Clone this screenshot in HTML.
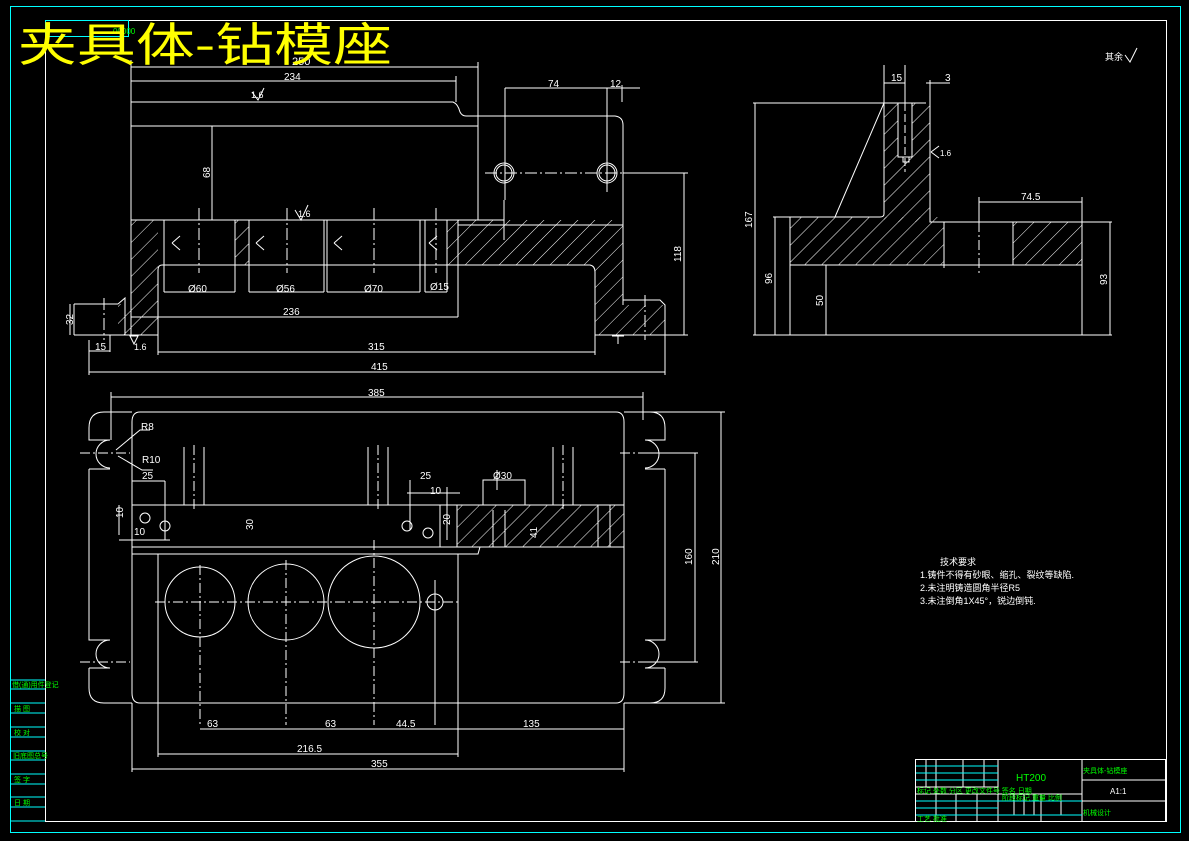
<!DOCTYPE html>
<html><head><meta charset="utf-8"><style>
html,body{margin:0;padding:0;background:#000;}
svg{display:block}
text{font-family:"Liberation Sans","Noto Sans CJK SC",sans-serif;fill:#fff}
</style></head><body>
<svg width="1189" height="841" viewBox="0 0 1189 841" xmlns="http://www.w3.org/2000/svg">
<defs>
<pattern id="h" width="12" height="12" patternUnits="userSpaceOnUse" patternTransform="rotate(45)">
<line x1="0" y1="0" x2="0" y2="12" stroke="#fff" stroke-width="1"/>
</pattern>
</defs>
<rect x="0" y="0" width="1189" height="841" fill="#000"/>
<rect x="10.5" y="6.5" width="1170" height="826" fill="none" stroke="#0ff" stroke-width="1"/>
<rect x="45.5" y="20.5" width="1121" height="801" fill="none" stroke="#fff" stroke-width="1"/>
<rect x="45.5" y="20.5" width="83" height="16" fill="none" stroke="#0ff"/>
<text x="113" y="34" font-size="8" style="fill:#0f0">00000</text>

<g stroke="#fff" stroke-width="1" fill="none">
<line x1="131" y1="67" x2="478" y2="67"/>
<line x1="131" y1="81" x2="456" y2="81"/>
<line x1="131" y1="60" x2="131" y2="335"/>
<line x1="478" y1="62" x2="478" y2="220"/>
<line x1="456" y1="76" x2="456" y2="102"/>
<path d="M131 102 H453 Q458 104 460 112 Q462 116 466 116 H615 Q623 117 623 125 V305"/>
<line x1="131" y1="126" x2="478" y2="126"/>
<line x1="131" y1="220" x2="504" y2="220"/>
<line x1="458" y1="225" x2="623" y2="225"/>
<path d="M158 270 Q158 265 162 265 H590 Q595 266 595 272 V335"/>
<line x1="158" y1="270" x2="158" y2="335"/>
<path d="M74 304 H118 M74 335 H158 M118 304 L125 298 V335 M595 335 H665 V305 L660 300 H623"/>
<line x1="74" y1="304" x2="74" y2="335"/>
<rect x="131" y="220" width="27" height="115" fill="url(#h)" stroke="none"/>
<rect x="118" y="304" width="13" height="31" fill="url(#h)" stroke="none"/>
<rect x="235" y="220" width="14" height="45" fill="url(#h)" stroke="none"/>
<rect x="447" y="220" width="176" height="45" fill="url(#h)" stroke="none"/>
<rect x="595" y="265" width="28" height="70" fill="url(#h)" stroke="none"/>
<rect x="623" y="305" width="42" height="30" fill="url(#h)" stroke="none"/>
<path d="M164 220 V292 M235 220 V292 M249 220 V292 M324 220 V292 M327 220 V292 M420 220 V292 M425 220 V292 M447 220 V292 M458 220 V317"/>
<g stroke-dasharray="12,3,2,3">
<line x1="199" y1="208" x2="199" y2="273"/><line x1="287" y1="208" x2="287" y2="273"/>
<line x1="374" y1="208" x2="374" y2="273"/><line x1="436" y1="208" x2="436" y2="273"/>
<line x1="485" y1="173" x2="680" y2="173"/>
<line x1="104" y1="298" x2="104" y2="340"/><line x1="645" y1="295" x2="645" y2="340"/>
</g>
<circle cx="504" cy="173" r="10"/><circle cx="607" cy="173" r="10"/>
<circle cx="504" cy="173" r="8"/><circle cx="607" cy="173" r="8"/>
<path d="M505 88 V200 M607 88 V192 M622 85 V102 M505 88 H640 M504 200 V240"/>
<path d="M164 292 H235 M249 292 H324 M327 292 H420 M425 292 H447 M131 317 H458 M158 352 H595 M89 372 H665 M89 351 H110 M89 340 V375 M110 335 V352 M665 335 V375 M158 335 V355 M595 335 V355"/>
<path d="M684 173 V335 M623 173 H688 M665 335 H688 M70 304 V335 M212 126 V220"/>
<path d="M252 92 L258 100 L264 88 M295 210 L301 220 L308 205 M130 336 L134 344 L138 336 Z M612 336 H624 M618 336 V344"/>
<path d="M172 243 L180 236 M172 243 L180 250 M256 243 L264 236 M256 243 L264 250 M334 243 L342 236 M334 243 L342 250 M429 243 L437 236 M429 243 L437 250"/>
</g>
<g font-size="10">
<text x="292" y="65" font-size="11">250</text>
<text x="284" y="80">234</text>
<text x="251" y="98" font-size="9">1.6</text>
<text x="298" y="217" font-size="9">1.6</text>
<text x="548" y="87">74</text>
<text x="610" y="87">12</text>
<text x="283" y="315">236</text>
<text x="368" y="350">315</text>
<text x="371" y="370">415</text>
<text x="95" y="350">15</text>
<text x="188" y="292">Ø60</text>
<text x="276" y="292">Ø56</text>
<text x="364" y="292">Ø70</text>
<text x="430" y="290">Ø15</text>
<text x="134" y="350" font-size="9">1.6</text>
<text transform="translate(210 178) rotate(-90)">68</text>
<text transform="translate(681 262) rotate(-90)">118</text>
<text transform="translate(73 325) rotate(-90)">32</text>
</g>

<g stroke="#fff" stroke-width="1" fill="none">
<rect x="884" y="103" width="46" height="119" fill="url(#h)" stroke="none"/>
<rect x="790" y="217" width="154" height="48" fill="url(#h)" stroke="none"/>
<rect x="1013" y="222" width="69" height="43" fill="url(#h)" stroke="none"/>
<rect x="898" y="103" width="14" height="54" fill="#000"/>
<path d="M753 103 H926 M884 103 V214 Q884 217 880 217 H773 M884 103 L835 217 M930 80 V222 H1112 M790 217 V335 M753 335 H1112 M790 265 H1082 M1082 222 V335 M944 222 V268 M1013 222 V265 M755 103 V335 M775 217 V335 M826 265 V335 M1110 222 V335 M979 197 V222 M979 202 H1082 M1082 197 V222 M884 65 V103 M905 65 V103 M884 83 H905 M926 83 H950 M903 157 H909 V162 H903 Z"/>
<line x1="905" y1="103" x2="905" y2="172" stroke-dasharray="8,3"/>
<line x1="979" y1="222" x2="979" y2="273" stroke-dasharray="10,3,2,3"/>
<path d="M931 152 L939 146 M931 152 L939 158"/>
</g>
<g font-size="10">
<text x="891" y="81">15</text><text x="945" y="81">3</text>
<text x="1021" y="200">74.5</text>
<text transform="translate(752 228) rotate(-90)">167</text>
<text transform="translate(772 284) rotate(-90)">96</text>
<text transform="translate(823 306) rotate(-90)">50</text>
<text transform="translate(1107 285) rotate(-90)">93</text>
<text x="940" y="156" font-size="8">1.6</text>
<text x="1105" y="60" font-size="9">其余</text>
</g>
<path d="M1125 55 L1130 62 L1137 48" stroke="#fff" fill="none"/>

<g stroke="#fff" stroke-width="1" fill="none">
<path d="M111 397 H643 M111 392 V440 M643 392 V420"/>
<path d="M140 412 H616 Q624 412 624 422 V693 Q624 703 616 703 H140 Q132 703 132 693 V422 Q132 412 140 412"/>
<path d="M132 412 H104 Q89 412 89 428 V440 H110 M89 469 H110 M89 469 V640 H110 M89 668 H110 V668 M89 668 V688 Q89 703 104 703 H132"/>
<path d="M110 440 A14 14 0 0 0 110 468 M110 640 A14 14 0 0 0 110 668"/>
<path d="M624 412 H650 Q665 412 665 428 V440 H645 M665 469 H645 M665 469 V640 H645 M665 668 H645 M665 668 V688 Q665 703 650 703 H624"/>
<path d="M645 440 A14 14 0 0 1 645 468 M645 640 A14 14 0 0 1 645 668"/>
<path d="M132 505 H624 M132 547 H624 M132 554 H478 L480 547 M158 554 V703 M458 554 V703 M721 412 V703 M695 453 V662 M624 412 H725 M624 703 H725 M645 453 H698 M645 662 H698"/>
<rect x="457" y="505" width="167" height="42" fill="url(#h)" stroke="none"/>
<rect x="483" y="480" width="42" height="25" fill="#000"/>
<path d="M483 480 H525 V505 M483 480 V505 M493 510 V547 M505 510 V547 M598 505 V547 M610 505 V547 M457 505 V547"/>
<path d="M184 447 V505 M204 447 V505 M368 447 V505 M388 447 V505 M553 447 V505 M573 447 V505"/>
<g stroke-dasharray="10,3,2,3">
<line x1="194" y1="445" x2="194" y2="510"/><line x1="378" y1="445" x2="378" y2="510"/><line x1="563" y1="445" x2="563" y2="510"/>
<line x1="155" y1="602" x2="460" y2="602"/>
<line x1="200" y1="565" x2="200" y2="725"/><line x1="286" y1="560" x2="286" y2="725"/><line x1="374" y1="540" x2="374" y2="725"/>
<line x1="80" y1="453" x2="130" y2="453"/><line x1="80" y1="662" x2="130" y2="662"/>
<line x1="620" y1="453" x2="670" y2="453"/><line x1="620" y1="662" x2="670" y2="662"/>
</g>
<circle cx="200" cy="602" r="35"/><circle cx="286" cy="602" r="38"/><circle cx="374" cy="602" r="46"/><circle cx="435" cy="602" r="8"/>
<circle cx="145" cy="518" r="5"/><circle cx="165" cy="526" r="5"/><circle cx="407" cy="526" r="5"/><circle cx="428" cy="533" r="5"/>
<path d="M435 580 V725 M200 729 H624 M158 754 H458 M132 769 H624 M132 703 V772 M624 703 V772 M158 703 V757 M458 703 V757 M624 703 V732"/>
<path d="M132 481 H165 M165 481 V540 M119 505 V535 M119 540 H170 M440 505 V547 M410 480 V530 M447 487 V540 M407 493 H460 M497 470 V490 M483 480 H525"/>
<path d="M116 450 L140 430 H150 M118 456 L142 470 H153"/>
</g>
<g font-size="10">
<text x="368" y="396">385</text>
<text x="141" y="430">R8</text>
<text x="142" y="463">R10</text>
<text x="142" y="479">25</text>
<text x="420" y="479">25</text>
<text x="430" y="494">10</text>
<text x="493" y="479">Ø30</text>
<text x="134" y="535">10</text>
<text x="207" y="727">63</text>
<text x="325" y="727">63</text>
<text x="396" y="727">44.5</text>
<text x="523" y="727">135</text>
<text x="297" y="752">216.5</text>
<text x="371" y="767">355</text>
<text transform="translate(123 518) rotate(-90)">10</text>
<text transform="translate(253 530) rotate(-90)">30</text>
<text transform="translate(450 525) rotate(-90)">20</text>
<text transform="translate(537 538) rotate(-90)">41</text>
<text transform="translate(692 565) rotate(-90)">160</text>
<text transform="translate(719 565) rotate(-90)">210</text>
</g>

<g font-size="9">
<text x="940" y="565">技术要求</text>
<text x="920" y="578">1.铸件不得有砂眼、缩孔、裂纹等缺陷.</text>
<text x="920" y="591">2.未注明铸造圆角半径R5</text>
<text x="920" y="604">3.未注倒角1X45°，锐边倒钝.</text>
</g>

<g stroke="#fff" fill="none">
<rect x="915.5" y="759.5" width="250" height="62"/>
<path d="M998 759 V822 M1082 759 V822 M1082 780 H1166 M1082 801 H1166 M915 787 H998 M915 794 H1082 M926 759 V787 M936 759 V822 M963 759 V787 M984 759 V787 M956 794 V822 M977 794 V822 M1014 794 V815 M1024 794 V815 M1034 794 V815 M1041 794 V822 M1061 794 V815"/>
</g>
<g stroke="#0ff" fill="none">
<path d="M916 766 H998 M916 773 H998 M916 780 H998 M916 801 H998 M916 808 H998 M916 815 H998 M998 801 H1082 M998 815 H1082"/>
</g>
<g font-size="7" style="fill:#0f0">
<text x="1016" y="781" font-size="10" style="fill:#0f0">HT200</text>
<text x="1083" y="773" style="fill:#0f0">夹具体-钻模座</text>
<text x="1083" y="815" style="fill:#0f0">机械设计</text>
<text x="917" y="793" style="fill:#0f0">标记 处数 分区 更改文件号 签名 日期</text>
<text x="1002" y="800" style="fill:#0f0">阶段标记 重量 比例</text>
<text x="917" y="821" style="fill:#0f0">工艺 批准</text>
</g>
<text x="1110" y="794" font-size="8">A1:1</text>

<g stroke="#0ff" fill="none">
<path d="M10 680 H45 M10 689 H45 M10 703 H45 M10 713 H45 M10 727 H45 M10 737 H45 M10 751 H45 M10 760 H45 M10 774 H45 M10 784 H45 M10 797 H45 M10 807 H45 M10 821 H45"/>
</g>
<g font-size="7" style="fill:#0f0">
<text x="12" y="687" style="fill:#0f0">借(通)用件登记</text>
<text x="14" y="711" style="fill:#0f0">描 图</text>
<text x="14" y="735" style="fill:#0f0">校 对</text>
<text x="13" y="758" style="fill:#0f0">旧底图总号</text>
<text x="14" y="782" style="fill:#0f0">签 字</text>
<text x="14" y="805" style="fill:#0f0">日 期</text>
</g>

<text x="18" y="61" font-size="46" textLength="374" lengthAdjust="spacingAndGlyphs" style="fill:#ff0;font-family:'Noto Sans CJK SC','WenQuanYi Zen Hei',sans-serif">夹具体-钻模座</text>
</svg>
</body></html>
